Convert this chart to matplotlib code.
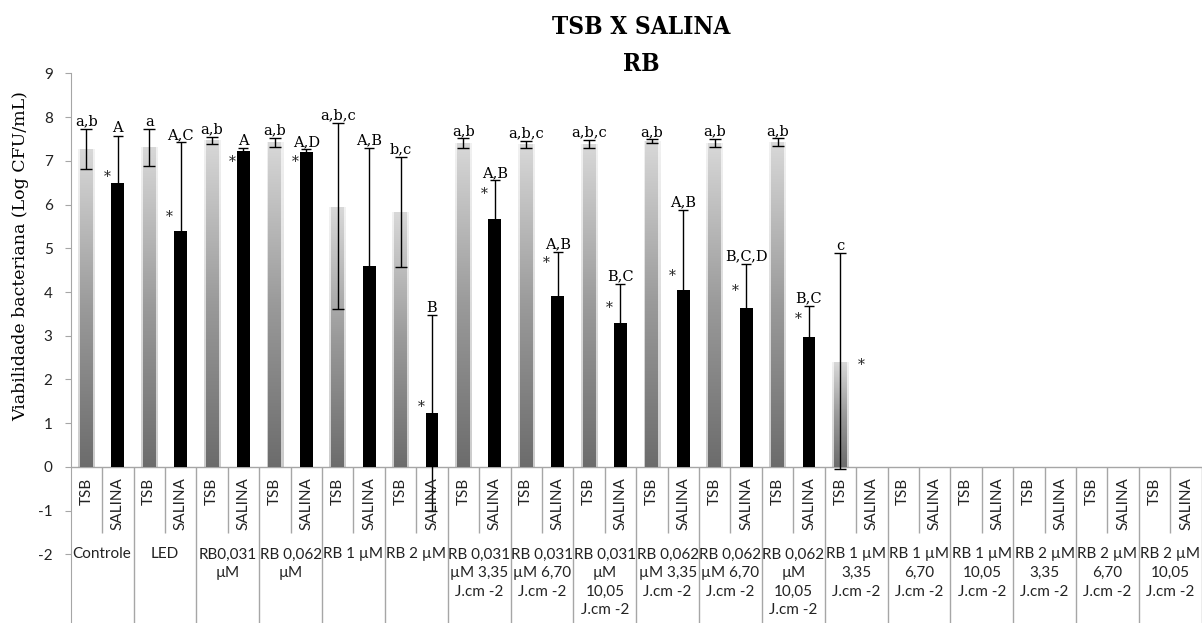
import matplotlib
matplotlib.use("Agg")
import matplotlib.pyplot as plt
import numpy as np
from matplotlib.colors import LinearSegmentedColormap

plt.rcParams["axes.unicode_minus"] = False

# treatment groups (multi-line labels under the axis)
groups = ["Controle", "LED", "RB0,031\nµM", "RB 0,062\nµM", "RB 1 µM", "RB 2 µM",
          "RB 0,031\nµM 3,35\nJ.cm -2", "RB 0,031\nµM 6,70\nJ.cm -2",
          "RB 0,031\nµM\n10,05\nJ.cm -2",
          "RB 0,062\nµM 3,35\nJ.cm -2", "RB 0,062\nµM 6,70\nJ.cm -2",
          "RB 0,062\nµM\n10,05\nJ.cm -2",
          "RB 1 µM\n3,35\nJ.cm -2", "RB 1 µM\n6,70\nJ.cm -2", "RB 1 µM\n10,05\nJ.cm -2",
          "RB 2 µM\n3,35\nJ.cm -2", "RB 2 µM\n6,70\nJ.cm -2", "RB 2 µM\n10,05\nJ.cm -2"]
media = ["TSB", "SALINA"]

# log CFU/mL, TSB medium
tsb = [7.27, 7.30, 7.46, 7.42, 5.93, 5.82, 7.40, 7.37, 7.38, 7.44, 7.40, 7.43,
       2.38, 0, 0, 0, 0, 0]
tsb_lo = [0.46, 0.43, 0.08, 0.11, 2.33, 1.25, 0.10, 0.08, 0.09, 0.04, 0.09, 0.09,
          2.43, 0, 0, 0, 0, 0]
tsb_hi = [0.46, 0.42, 0.09, 0.11, 1.94, 1.26, 0.11, 0.08, 0.09, 0.05, 0.10, 0.08,
          2.51, 0, 0, 0, 0, 0]
tsb_letters = ["a,b", "a", "a,b", "a,b", "a,b,c", "b,c", "a,b", "a,b,c", "a,b,c",
               "a,b", "a,b", "a,b", "c", "", "", "", "", ""]

# log CFU/mL, saline
salina = [6.49, 5.40, 7.23, 7.19, 4.60, 1.23, 5.66, 3.91, 3.29, 4.04, 3.64, 2.96,
          0, 0, 0, 0, 0, 0]
salina_err = [1.08, 2.02, 0.06, 0.07, 2.70, 2.24, 0.89, 1.00, 0.89, 1.84, 1.01, 0.73,
              0, 0, 0, 0, 0, 0]
salina_letters = ["A", "A,C", "A", "A,D", "A,B", "B", "A,B", "A,B", "B,C", "A,B",
                  "B,C,D", "B,C", "", "", "", "", "", ""]

# height of the significance asterisk for each group (None = not significant)
star_y = [6.62, 5.72, 6.98, 6.98, None, 1.36, 6.24, 4.66, 3.63, 4.36, 4.02, 3.38,
          2.32, None, None, None, None, None]

SANS = "Lato"
SERIF = "DejaVu Serif"
AXIS_GRAY = "#a6a6a6"
bar_w = 0.41

fig = plt.figure(figsize=(12.03, 6.23), dpi=100)
ax = fig.add_axes([70.7 / 1203, 0, 1131 / 1203, 549.7 / 623])
ymin = 9 - 549.7 / 43.74
ax.set_xlim(0, 36)
ax.set_ylim(ymin, 9)

n = len(groups)
x_tsb = np.arange(n) * 2 + 0.5
x_sal = x_tsb + 1

# gray TSB bars: vertical gradient, light on top
grad = LinearSegmentedColormap.from_list("tsbgrad", ["#6c6c6c", "#9a9a9a", "#d8d8d8"])
ramp = np.linspace(0, 1, 256).reshape(-1, 1)
tsb_bars = ax.bar(x_tsb, tsb, width=bar_w, color="none", edgecolor="none", zorder=2)
for b in tsb_bars:
    h = b.get_height()
    if h <= 0:
        continue
    x0, w = b.get_x(), b.get_width()
    ax.imshow(ramp, cmap=grad, origin="lower", aspect="auto", alpha=0.35,
              extent=[x0 - 0.06, x0 + w + 0.06, 0, h], zorder=1.5)
    ax.imshow(ramp, cmap=grad, origin="lower", aspect="auto",
              extent=[x0, x0 + w, 0, h], zorder=2)

ax.bar(x_sal, salina, width=bar_w, color="black", zorder=2)

# error bars (skip empty groups so no caps sit on the axis)
it = [i for i in range(n) if tsb[i] > 0]
ax.errorbar(x_tsb[it], np.array(tsb)[it],
            yerr=[np.array(tsb_lo)[it], np.array(tsb_hi)[it]],
            fmt="none", ecolor="black", elinewidth=1, capsize=4.5, capthick=1, zorder=3)
# saline error bars sit behind the black bars; only the parts outside show
isal = [i for i in range(n) if salina[i] > 0]
ax.errorbar(x_sal[isal], np.array(salina)[isal], yerr=np.array(salina_err)[isal],
            fmt="none", ecolor="black", elinewidth=1, capsize=3.5, capthick=1, zorder=1.8)

# letters of the statistical groups
for i in range(n):
    if tsb_letters[i]:
        ax.text(x_tsb[i], tsb[i] + tsb_hi[i] + 0.08, tsb_letters[i], ha="center",
                va="baseline", family=SERIF, fontsize=10.5, color="black", zorder=4)
    if salina_letters[i]:
        ax.text(x_sal[i], salina[i] + salina_err[i] + 0.08, salina_letters[i],
                ha="center", va="baseline", family=SERIF, fontsize=10.5, color="black",
                zorder=4)
    if star_y[i] is not None:
        ax.text(x_sal[i] - 0.35, star_y[i], "*", ha="center", va="center",
                family=SERIF, fontsize=10, color="#222222", zorder=4)

# axis line at zero and the category dividers
ax.axhline(0, color=AXIS_GRAY, lw=1, zorder=1)
inner = np.arange(1, 36, 2)
outer = np.arange(2, 37, 2)
ax.vlines(inner, -1.52, 0, color=AXIS_GRAY, lw=1, zorder=1)
ax.vlines(outer, ymin, 0, color=AXIS_GRAY, lw=1, zorder=1)

for i in range(n):
    ax.text(x_tsb[i], -0.24, media[0], rotation=90, ha="center", va="top",
            family=SANS, fontsize=11, color="#222222")
    ax.text(x_sal[i], -0.24, media[1], rotation=90, ha="center", va="top",
            family=SANS, fontsize=11, color="#222222")
    ax.text(2 * i + 1, -1.84, groups[i], ha="center", va="top", family=SANS,
            fontsize=11, color="#222222", linespacing=1.42)

for s in ["top", "right", "bottom"]:
    ax.spines[s].set_visible(False)
ax.spines["left"].set_color(AXIS_GRAY)
ax.set_xticks([])
ax.set_yticks(range(-2, 10))
ax.tick_params(axis="y", direction="out", length=4, color=AXIS_GRAY, pad=9,
               labelsize=11, labelcolor="#222222")
for lab in ax.get_yticklabels():
    lab.set_family(SANS)

fig.text(20.5 / 1203, 1 - 256.5 / 623, "Viabilidade bacteriana (Log CFU/mL)",
         rotation=90, ha="center", va="center", family=SERIF, fontsize=12.5)

fig.text(641 / 1203, 1 - 27 / 623, "TSB X SALINA", ha="center", va="center",
         family=SERIF, fontweight="bold", fontstretch="condensed", fontsize=17.5)
fig.text(641 / 1203, 1 - 64 / 623, "RB", ha="center", va="center",
         family=SERIF, fontweight="bold", fontstretch="condensed", fontsize=17.5)

fig.savefig("out.png", dpi=100)
